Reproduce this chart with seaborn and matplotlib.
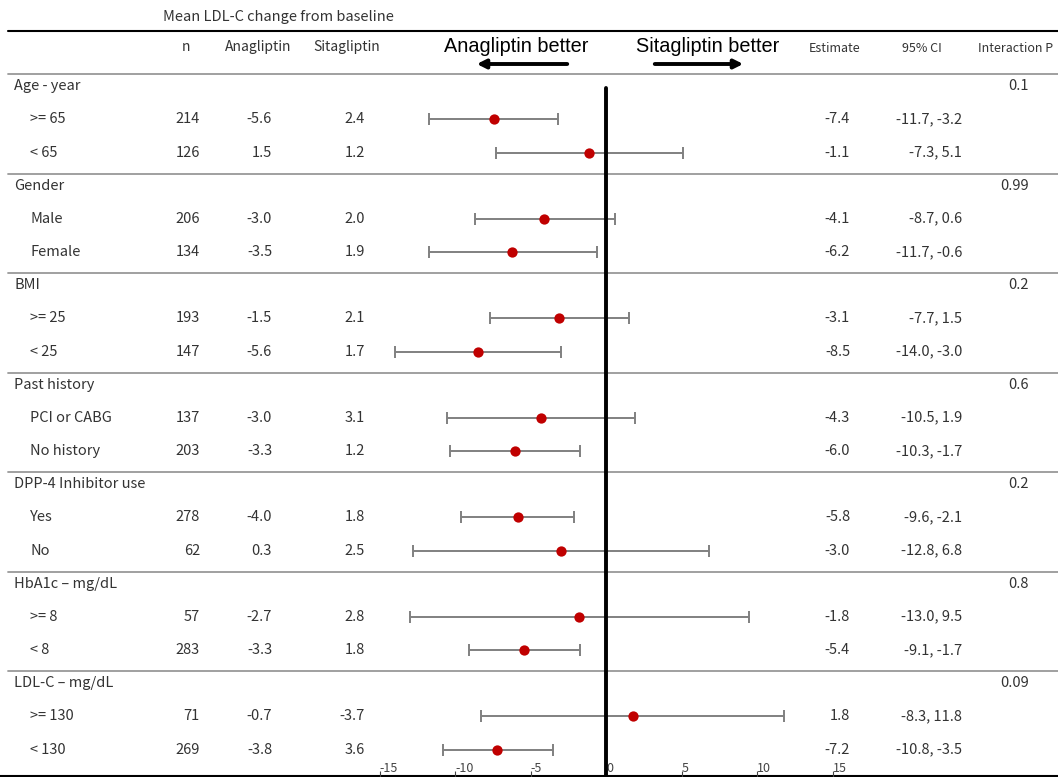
import numpy as np
import pandas as pd
import matplotlib
matplotlib.use("Agg")
import matplotlib.pyplot as plt
import seaborn as sns

# Dados do forest plot
grupos = ["Age - year", "Gender", "BMI", "Past history", "DPP-4 Inhibitor use",
          "HbA1c \u2013 mg/dL", "LDL-C \u2013 mg/dL"]
p_interacao = ["0.1", "0.99", "0.2", "0.6", "0.2", "0.8", "0.09"]
subgrupos = [">= 65", "< 65", "Male", "Female", ">= 25", "< 25", "PCI or CABG", "No history",
             "Yes", "No", ">= 8", "< 8", ">= 130", "< 130"]
n_pac = [214, 126, 206, 134, 193, 147, 137, 203, 278, 62, 57, 283, 71, 269]
anagliptin = [-5.6, 1.5, -3.0, -3.5, -1.5, -5.6, -3.0, -3.3, -4.0, 0.3, -2.7, -3.3, -0.7, -3.8]
sitagliptin = [2.4, 1.2, 2.0, 1.9, 2.1, 1.7, 3.1, 1.2, 1.8, 2.5, 2.8, 1.8, -3.7, 3.6]
estimativa = [-7.4, -1.1, -4.1, -6.2, -3.1, -8.5, -4.3, -6.0, -5.8, -3.0, -1.8, -5.4, 1.8, -7.2]
ic_inf = [-11.7, -7.3, -8.7, -11.7, -7.7, -14.0, -10.5, -10.3, -9.6, -12.8, -13.0, -9.1, -8.3, -10.8]
ic_sup = [-3.2, 5.1, 0.6, -0.6, 1.5, -3.0, 1.9, -1.7, -2.1, 6.8, 9.5, -1.7, 11.8, -3.5]
ticks_x = [-15, -10, -5, 0, 5, 10, 15]

# Posicao das linhas (em unidades de linha: 3 por grupo)
pos_sub = []
for g in range(len(grupos)):
    pos_sub += [g * 3 + 1.36, g * 3 + 2.37]

df = pd.DataFrame({"sub": subgrupos, "n": n_pac, "ana": anagliptin, "sita": sitagliptin,
                   "est": estimativa, "lo": ic_inf, "hi": ic_sup, "pos": pos_sub})

sns.set_theme(style="white")
plt.rcParams['font.family'] = ['Noto Sans CJK JP', 'DejaVu Sans']

W, H = 1058, 777
fig = plt.figure(figsize=(W / 100, H / 100), dpi=100)

# Eixo de fundo em pixels para o texto da tabela
bg = fig.add_axes([0, 0, 1, 1])
bg.set_xlim(0, W)
bg.set_ylim(H, 0)
bg.axis("off")

topo = 74
passo = 33.17
n_linhas = (H - topo) / passo

def ypix(r):
    return topo + passo * r

cor_txt = "#333333"
fs = 10.5

# Cabecalho
bg.text(278, 17, "Mean LDL-C change from baseline", ha="center", va="center", fontsize=10.5, color=cor_txt)
bg.plot([8, W], [31, 31], color="black", lw=1.5)
bg.text(186, 47, "n", ha="center", va="center", fontsize=10, color=cor_txt)
bg.text(258, 47, "Anagliptin", ha="center", va="center", fontsize=10, color=cor_txt)
bg.text(347, 47, "Sitagliptin", ha="center", va="center", fontsize=10, color=cor_txt)
bg.text(835, 49, "Estimate", ha="center", va="center", fontsize=9, color=cor_txt)
bg.text(922, 49, "95% CI", ha="center", va="center", fontsize=9, color=cor_txt)
bg.text(1016, 49, "Interaction P", ha="center", va="center", fontsize=9, color=cor_txt)
bg.text(516, 46, "Anagliptin better", ha="center", va="center", fontsize=14.3,
        family="Liberation Sans", color="black")
bg.text(708, 46, "Sitagliptin better", ha="center", va="center", fontsize=14.3,
        family="Liberation Sans", color="black")
bg.annotate("", xy=(474, 64), xytext=(570, 64),
            arrowprops=dict(arrowstyle="-|>", color="black", lw=2.8, mutation_scale=13))
bg.annotate("", xy=(746, 64), xytext=(652, 64),
            arrowprops=dict(arrowstyle="-|>", color="black", lw=2.8, mutation_scale=13))

# Linhas separadoras e textos dos grupos
for g, nome in enumerate(grupos):
    y0 = ypix(g * 3)
    bg.plot([8, W], [y0, y0], color="#999999", lw=1.3)
    bg.text(14, y0 + 12, nome, ha="left", va="center", fontsize=fs, color=cor_txt)
    bg.text(1029, y0 + 12, p_interacao[g], ha="right", va="center", fontsize=fs, color=cor_txt)
bg.plot([0, W], [H - 1, H - 1], color="black", lw=1.5)

for _, r in df.iterrows():
    y = ypix(r["pos"])
    bg.text(30, y, r["sub"], ha="left", va="center", fontsize=fs, color=cor_txt)
    bg.text(200, y, f"{r['n']}", ha="right", va="center", fontsize=fs, color=cor_txt)
    bg.text(272, y, f"{r['ana']:.1f}", ha="right", va="center", fontsize=fs, color=cor_txt)
    bg.text(365, y, f"{r['sita']:.1f}", ha="right", va="center", fontsize=fs, color=cor_txt)
    bg.text(850, y, f"{r['est']:.1f}", ha="right", va="center", fontsize=fs, color=cor_txt)
    bg.text(962, y, f"{r['lo']:.1f}, {r['hi']:.1f}", ha="right", va="center", fontsize=fs, color=cor_txt)

# Eixo do forest plot
px0 = 606
escala = 15.1
xl, xr = 370, 845
ax = fig.add_axes([xl / W, 0, (xr - xl) / W, (H - topo) / H])
ax.patch.set_alpha(0)
ax.set_xlim((xl - px0) / escala, (xr - px0) / escala)
ax.set_ylim(n_linhas, 0)
for s in ax.spines.values():
    s.set_visible(False)

ax.errorbar(df["est"], df["pos"], xerr=[df["est"] - df["lo"], df["hi"] - df["est"]],
            fmt="none", ecolor="#808080", elinewidth=1.4, capsize=4, capthick=1.4, zorder=2)
sns.scatterplot(x="est", y="pos", data=df, ax=ax, color="#c00000", s=55,
                edgecolor="#c00000", linewidth=0, zorder=3)
ax.plot([0, 0], [(88 - topo) / passo, n_linhas], color="black", lw=2.8, zorder=4)

ax.set_xticks(ticks_x)
ax.set_xticklabels([str(t) for t in ticks_x])
ax.set_yticks([])
ax.set_xlabel("")
ax.set_ylabel("")
ax.tick_params(axis="x", direction="in", length=4, width=0.8, pad=-10.5, labelsize=9,
               colors="#444444", bottom=True)
for lab in ax.get_xticklabels():
    lab.set_horizontalalignment("left")

fig.savefig("out.png", dpi=100)
